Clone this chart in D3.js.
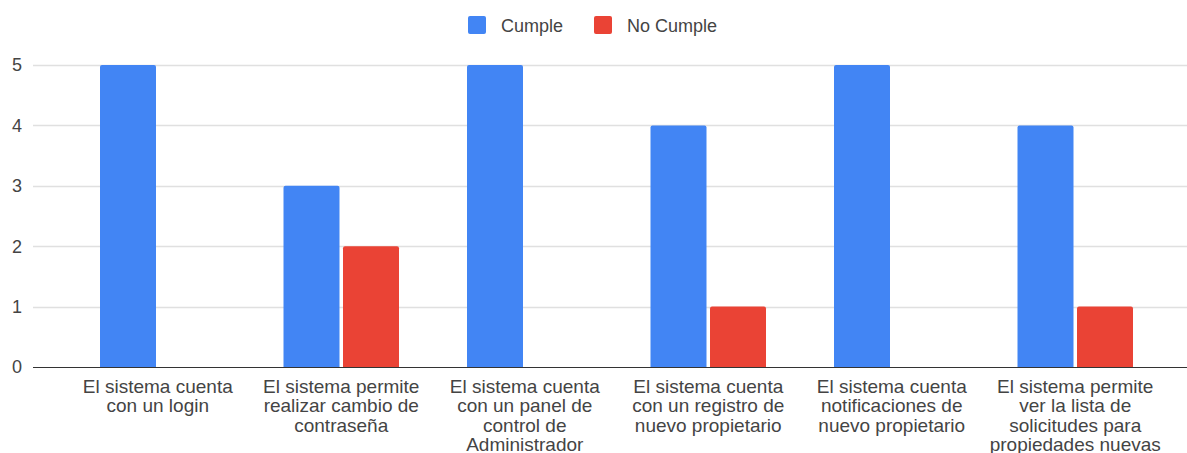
<!DOCTYPE html>
<html>
<head>
<meta charset="utf-8">
<script src="https://cdn.jsdelivr.net/npm/d3@7"></script>
<style>
  html, body { margin: 0; padding: 0; background: #fff; }
  svg { display: block; font-family: "Liberation Sans", Arial, sans-serif; }
</style>
</head>
<body>
<svg id="chart" width="1187" height="453"></svg>
<script>
const categories = [
  "El sistema cuenta\ncon un login",
  "El sistema permite\nrealizar cambio de\ncontraseña",
  "El sistema cuenta\ncon un panel de\ncontrol de\nAdministrador",
  "El sistema cuenta\ncon un registro de\nnuevo propietario",
  "El sistema cuenta\nnotificaciones de\nnuevo propietario",
  "El sistema permite\nver la lista de\nsolicitudes para\npropiedades nuevas"
];
const seriesNames = ["Cumple", "No Cumple"];
const cumple = [5, 3, 5, 4, 5, 4];
const noCumple = [0, 2, 0, 1, 0, 1];
const yTicks = [0, 1, 2, 3, 4, 5];
const colors = ["#4285F4", "#EA4335"];

const svg = d3.select("#chart");
const gridLeft = 33, gridRight = 1187;
const plotLeft = 66, plotRight = 1167;
const yBottom = 367, yTop = 65;

const x0 = d3.scaleBand().domain(categories.map((d, i) => i)).range([plotLeft, plotRight]).padding(0);
const barW = 56, gap = 3.5;
const x1 = d3.scaleBand().domain([0, 1]).range([0, barW * 2 + gap]).paddingInner(gap / (barW + gap)).paddingOuter(0);
const y = d3.scaleLinear().domain([0, 5]).range([yBottom, yTop]);

// gridlines
svg.append("g").selectAll("line").data(yTicks.filter(t => t !== 0)).join("line")
  .attr("x1", gridLeft).attr("x2", gridRight)
  .attr("y1", d => Math.round(y(d)) + 0.5).attr("y2", d => Math.round(y(d)) + 0.5)
  .attr("stroke", "#e0e0e0").attr("stroke-width", 1.5);

// y tick labels
svg.append("g").selectAll("text").data(yTicks).join("text")
  .attr("x", 22).attr("y", d => y(d)).attr("dy", "0.36em")
  .attr("text-anchor", "end").attr("font-size", 18).attr("fill", "#444")
  .text(d => d);

// bars
const data = categories.map((c, i) => ({ i, vals: [cumple[i], noCumple[i]] }));
const groupPad = (x0.bandwidth() - (barW * 2 + gap)) / 2;
const groups = svg.append("g").selectAll("g").data(data).join("g")
  .attr("transform", d => `translate(${x0(d.i) + groupPad},0)`);
groups.selectAll("path").data(d => d.vals.map((v, s) => ({ v, s }))).join("path")
  .filter(d => d.v > 0)
  .attr("fill", d => colors[d.s])
  .attr("d", d => {
    const xx = x1(d.s), w = x1.bandwidth(), top = y(d.v), bot = y(0), r = 2;
    return `M${xx},${bot}V${top + r}Q${xx},${top} ${xx + r},${top}H${xx + w - r}Q${xx + w},${top} ${xx + w},${top + r}V${bot}Z`;
  });

// baseline
svg.append("line").attr("x1", gridLeft).attr("x2", gridRight)
  .attr("y1", yBottom + 0.5).attr("y2", yBottom + 0.5)
  .attr("stroke", "#333").attr("stroke-width", 1.2);

// x labels
const lab = svg.append("g").selectAll("text").data(categories).join("text")
  .attr("x", (d, i) => x0(i) + x0.bandwidth() / 2)
  .attr("y", 393)
  .attr("text-anchor", "middle").attr("font-size", 19).attr("fill", "#444");
lab.each(function(d) {
  const t = d3.select(this);
  d.split("\n").forEach((line, k) => {
    t.append("tspan").attr("x", t.attr("x")).attr("y", 393 + k * 19.3).text(line);
  });
});

// legend
const legend = svg.append("g");
const legendItems = [{ x: 468, name: seriesNames[0], c: colors[0] }, { x: 594, name: seriesNames[1], c: colors[1] }];
legendItems.forEach(it => {
  legend.append("rect").attr("x", it.x).attr("y", 16).attr("width", 18).attr("height", 18)
    .attr("rx", 2).attr("fill", it.c);
  legend.append("text").attr("x", it.x + 33).attr("y", 32).attr("font-size", 18)
    .attr("fill", "#444").text(it.name);
});
</script>
</body>
</html>
